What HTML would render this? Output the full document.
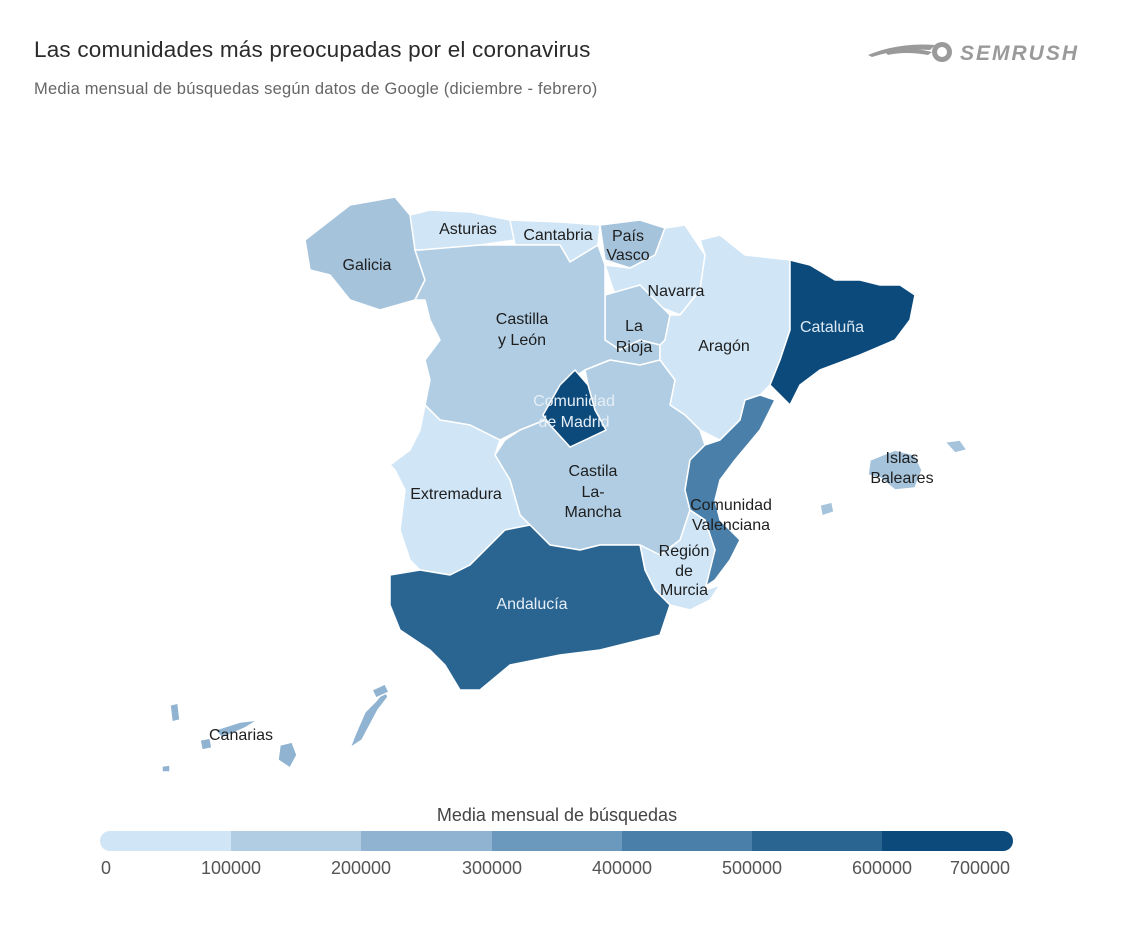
<!DOCTYPE html>
<html><head><meta charset="utf-8"><style>
body{margin:0;width:1123px;height:941px;background:#fff;font-family:"Liberation Sans",sans-serif;position:relative;overflow:hidden}
.t{position:absolute;left:34px;top:37px;font-size:22.5px;color:#2b2b2b;letter-spacing:0.2px}
.s{position:absolute;left:34px;top:80px;font-size:16.5px;color:#666;letter-spacing:0.2px}
</style></head><body>
<div class="t">Las comunidades más preocupadas por el coronavirus</div>
<div class="s">Media mensual de búsquedas según datos de Google (diciembre - febrero)</div>
<svg width="1123" height="941" style="position:absolute;left:0;top:0">
<g fill="#9a9a9a">
<path d="M868 55 Q900 42 935 45 L930 50 Q900 48 872 57Z"/>
<path d="M885 52 Q910 46 932 52 L928 55 Q905 51 888 55Z"/>
<circle cx="942" cy="52" r="10"/><circle cx="942" cy="52" r="5" fill="#fff"/>
<text x="960" y="60" font-size="21" font-style="italic" font-weight="bold" fill="#9a9a9a" letter-spacing="2">SEMRUSH</text>
</g>
<g stroke="#fff" stroke-width="1.5" stroke-linejoin="round">
<polygon fill="#a6c3dc" points="305,240 350,205 395,197 410,215 420,215 415,250 425,280 415,300 380,310 350,300 330,275 310,270"/>
<polygon fill="#d0e5f5" points="410,215 430,210 470,212 510,220 515,240 480,245 425,250 415,250"/>
<polygon fill="#d0e5f5" points="510,220 560,222 600,225 598,245 570,262 560,245 515,245"/>
<polygon fill="#a6c3dc" points="600,225 640,220 665,228 655,255 630,268 605,260"/>
<polygon fill="#d0e5f5" points="665,228 685,225 705,255 700,290 680,315 655,305 640,285 615,295 605,265 630,268 655,255"/>
<polygon fill="#b0cde3" points="605,295 640,285 660,305 670,315 665,340 660,345 640,340 620,350 605,340"/>
<polygon fill="#b0cde3" points="420,250 480,245 515,245 560,245 570,262 598,245 605,265 605,340 620,350 640,340 660,345 660,360 640,365 610,360 585,370 570,380 545,420 520,430 500,440 470,425 440,420 425,405 430,380 425,360 440,340 430,320 425,300 415,300 425,280 415,250"/>
<polygon fill="#d0e5f5" points="700,240 720,235 745,255 790,260 790,330 780,360 770,385 760,395 745,400 740,420 720,440 700,430 685,415 670,405 675,380 660,360 660,345 665,340 670,315 680,315 700,290 705,255"/>
<polygon fill="#0c4a7c" points="790,260 810,265 835,280 860,280 880,285 900,285 915,295 910,320 895,340 860,355 820,370 800,385 790,405 780,395 770,385 780,360 790,330"/>
<polygon fill="#b0cde3" points="585,370 610,360 640,365 660,360 675,380 670,405 685,415 700,430 705,445 690,460 685,490 690,510 680,540 660,555 640,545 600,545 580,550 550,545 530,525 520,515 510,480 495,455 505,440 520,430 545,420 550,425 570,447 585,440 606,430 595,410 588,385"/>
<polygon fill="#0c4a7c" points="575,370 588,385 595,410 606,430 585,440 570,447 550,425 543,415 560,385"/>
<polygon fill="#d0e5f5" points="425,405 440,420 470,425 500,440 495,455 510,480 520,515 530,525 505,530 490,545 470,565 450,575 420,570 410,560 400,530 405,490 395,470 390,465 410,450 420,430"/>
<polygon fill="#4a7fa9" points="745,400 760,395 775,400 760,430 735,460 720,480 715,500 720,520 740,540 730,560 715,580 700,590 715,550 705,520 690,510 685,490 690,460 705,445 720,440 740,420"/>
<polygon fill="#d0e5f5" points="640,545 660,555 680,540 690,510 705,520 715,550 705,590 720,585 710,600 690,610 670,605 655,590 645,570"/>
<polygon fill="#2a6592" points="390,575 420,570 450,575 470,565 490,545 505,530 530,525 550,545 580,550 600,545 640,545 645,570 655,590 670,605 660,635 640,640 600,650 560,655 510,665 480,690 460,690 445,665 430,650 400,630 390,605"/>
<polygon fill="#a6c3dc" points="870,460 895,450 915,455 922,470 915,488 895,490 880,478 868,475"/>
<polygon fill="#a6c3dc" points="945,442 960,440 967,450 955,453"/>
<polygon fill="#a6c3dc" points="820,505 832,502 834,512 822,516"/>
<g fill="#8fb3d0">
<polygon points="170,705 178,703 180,720 172,722"/>
<polygon points="200,740 210,738 212,748 202,750"/>
<polygon points="215,730 240,722 258,720 245,728 222,738"/>
<polygon points="280,745 292,742 297,755 290,768 278,760"/>
<polygon points="355,735 365,712 375,702 385,690 388,697 378,710 362,740 350,748"/>
<polygon points="372,690 385,684 389,692 376,698"/>
<polygon points="162,766 170,765 170,772 162,772"/>
</g>
</g>
<g font-size="16" text-anchor="middle" fill="#1e1e1e">
<text x="367" y="270">Galicia</text>
<text x="468" y="234">Asturias</text>
<text x="558" y="240">Cantabria</text>
<text x="628" y="241">País</text><text x="628" y="260">Vasco</text>
<text x="676" y="296">Navarra</text>
<text x="522" y="324">Castilla</text><text x="522" y="345">y León</text>
<text x="634" y="331">La</text><text x="634" y="352">Rioja</text>
<text x="724" y="351">Aragón</text>
<text x="832" y="332" fill="#dde9f3">Cataluña</text>
<text x="574" y="406" fill="#e6eef6">Comunidad</text><text x="574" y="427" fill="#e6eef6">de Madrid</text>
<text x="593" y="476">Castila</text><text x="593" y="497">La-</text><text x="593" y="517">Mancha</text>
<text x="456" y="499">Extremadura</text>
<text x="731" y="510">Comunidad</text><text x="731" y="530">Valenciana</text>
<text x="684" y="556">Región</text><text x="684" y="576">de</text><text x="684" y="595">Murcia</text>
<text x="532" y="609" fill="#e6eef6">Andalucía</text>
<text x="902" y="463">Islas</text><text x="902" y="483">Baleares</text>
<text x="241" y="740">Canarias</text>
</g>
<text x="557" y="821" font-size="18" text-anchor="middle" fill="#444">Media mensual de búsquedas</text>
<clipPath id="c"><rect x="100" y="831" width="913" height="20" rx="10"/></clipPath>
<g clip-path="url(#c)">
<rect x="100" y="831" width="131" height="20" fill="#d0e5f5"/>
<rect x="231" y="831" width="131" height="20" fill="#b0cde3"/>
<rect x="361" y="831" width="131" height="20" fill="#8fb3d0"/>
<rect x="492" y="831" width="131" height="20" fill="#6b98bd"/>
<rect x="622" y="831" width="131" height="20" fill="#4a7fa9"/>
<rect x="752" y="831" width="131" height="20" fill="#2a6592"/>
<rect x="882" y="831" width="131" height="20" fill="#0c4a7c"/>
</g>
<g font-size="18" fill="#555" text-anchor="middle">
<text x="106" y="874">0</text>
<text x="231" y="874">100000</text>
<text x="361" y="874">200000</text>
<text x="492" y="874">300000</text>
<text x="622" y="874">400000</text>
<text x="752" y="874">500000</text>
<text x="882" y="874">600000</text>
<text x="980" y="874">700000</text>
</g>
</svg>
</body></html>
